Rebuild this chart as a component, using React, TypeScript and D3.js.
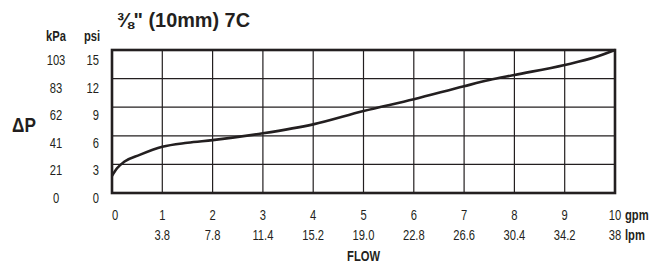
import React from 'react';
import * as d3 from 'd3';

const flowGpm = [0, 0.1, 0.25, 0.55, 1, 1.5, 2, 3, 4, 5, 6, 7, 7.5, 8, 9, 9.6, 10];
const dropPsi = [1.8, 2.6, 3.3, 4.0, 4.85, 5.27, 5.55, 6.26, 7.2, 8.6, 9.83, 11.2, 11.85, 12.38, 13.43, 14.23, 15];

const gpmTicks = [0, 1, 2, 3, 4, 5, 6, 7, 8, 9, 10];
const lpmLabels = ['', '3.8', '7.8', '11.4', '15.2', '19.0', '22.8', '26.6', '30.4', '34.2', '38'];
const psiTicks = [0, 3, 6, 9, 12, 15];
const kpaLabels = ['0', '21', '41', '62', '83', '103'];

const font = '"Liberation Sans", Arial, sans-serif';
const ink = '#231f20';

// narrow text: the original uses a condensed face, so squeeze Liberation Sans horizontally
const T: React.FC<{
    x: number; y: number; anchor?: 'start' | 'middle' | 'end';
    size?: number; bold?: boolean; sx?: number; children: React.ReactNode;
}> = ({ x, y, anchor = 'middle', size = 14, bold = false, sx = 0.8, children }) => (
    <text transform={`translate(${x},${y}) scale(${sx},1)`} dy="0.35em" textAnchor={anchor}
        fontSize={size} fontWeight={bold ? 'bold' : 'normal'} fill={ink}>{children}</text>
);

const App: React.FC = () => {
    const width = 664;
    const height = 268;

    const x = d3.scaleLinear().domain([0, 10]).range([112, 615]);
    const y = d3.scaleLinear().domain([0, 15]).range([193, 50]);
    // tick labels sit a little below their grid lines in the original
    const yLabel = d3.scaleLinear().domain([0, 15]).range([197.7, 60.5]);

    const line = d3.line<number>()
        .x((_, i) => x(flowGpm[i]))
        .y(d => y(d))
        .curve(d3.curveMonotoneX);

    return (
        <svg width={width} height={height} style={{ position: 'absolute', left: 0, top: 0 }} fontFamily={font}>
            <rect width={width} height={height} fill="#fff" />

            {/* grid */}
            {gpmTicks.slice(1, -1).map(t => (
                <line key={'vx' + t} x1={x(t)} x2={x(t)} y1={y(0)} y2={y(15)} stroke={ink} strokeWidth={1.2} />
            ))}
            {psiTicks.slice(1, -1).map(t => (
                <line key={'hy' + t} x1={x(0)} x2={x(10)} y1={y(t)} y2={y(t)} stroke={ink} strokeWidth={1.2} />
            ))}
            <rect x={x(0)} y={y(15)} width={x(10) - x(0)} height={y(0) - y(15)}
                fill="none" stroke={ink} strokeWidth={2.6} />

            <path d={line(dropPsi) || ''} fill="none" stroke={ink} strokeWidth={2.6} strokeLinejoin="round" />

            {/* y labels */}
            <T x={56} y={36} bold>kPa</T>
            <T x={92} y={36} bold>psi</T>
            {psiTicks.map((t, i) => (
                <g key={'yl' + t}>
                    <T x={56} y={yLabel(t)}>{kpaLabels[i]}</T>
                    <T x={99} y={yLabel(t)} anchor="end">{t}</T>
                </g>
            ))}
            <T x={24} y={125} size={21} bold sx={0.82}>ΔP</T>

            {/* x labels */}
            {gpmTicks.map((t, i) => (
                <g key={'xl' + t}>
                    <T x={t === 0 ? x(t) + 3 : x(t)} y={215}>{t}</T>
                    <T x={x(t)} y={235}>{lpmLabels[i]}</T>
                </g>
            ))}
            <T x={625} y={215} anchor="start" bold>gpm</T>
            <T x={625} y={235} anchor="start" bold>lpm</T>
            <T x={(x(0) + x(10)) / 2} y={256} bold>FLOW</T>

            {/* title */}
            <text x={117} y={27} fontSize={21} fontWeight="bold" fill={ink}
                textLength={133} lengthAdjust="spacingAndGlyphs">⅜" (10mm) 7C</text>
        </svg>
    );
};

export default App;
